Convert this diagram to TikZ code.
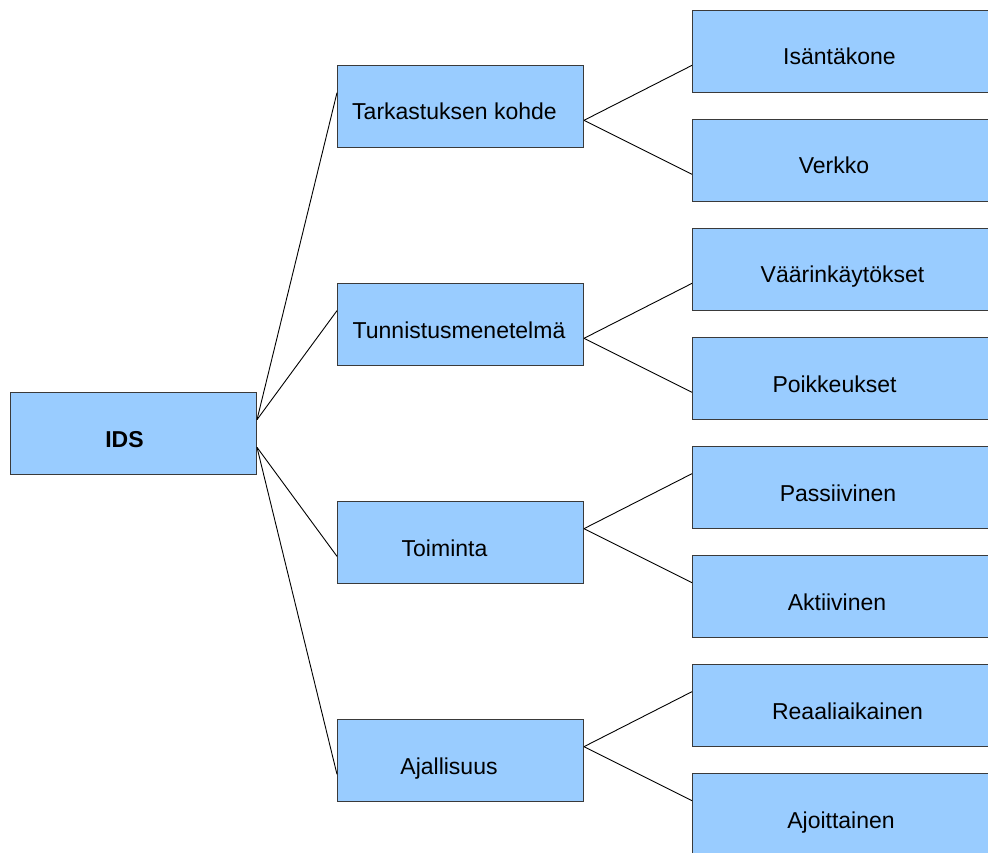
\documentclass[tikz,border=0pt]{standalone}
\usepackage{fontspec}
\setmainfont{Liberation Sans}
\usetikzlibrary{calc}
\definecolor{boxblue}{HTML}{99CCFF}
\definecolor{boxedge}{HTML}{3A3A3A}
\begin{document}
\begin{tikzpicture}[x=1pt,y=-1pt,
  box/.style={draw=boxedge, fill=boxblue, line width=1pt, inner sep=0pt,
              minimum height=82pt, anchor=north west},
  midbox/.style={box, minimum width=246pt},
  leafbox/.style={box, minimum width=298pt},
  lbl/.style={anchor=base, inner sep=0pt, font=\fontsize{23}{27}\selectfont},
  link/.style={draw=black, line width=0.9pt}]
\clip (0,0) rectangle (988,853);

% root
\node[midbox] (ids) at (10,392) {};
\node[lbl] (idsT) at (124.5,447.5) {\bfseries IDS};

% second level
\node[midbox] (t1) at (337,65) {};
\node[midbox] (t2) at (337,283) {};
\node[midbox] (t3) at (337,501) {};
\node[midbox] (t4) at (337,719) {};
\node[lbl] (t1T) at (454.5,120) {Tarkastuksen kohde};
\node[lbl] (t2T) at (459,338) {Tunnistusmenetelmä};
\node[lbl] (t3T) at (444.5,556) {Toiminta};
\node[lbl] (t4T) at (449,774) {Ajallisuus};

% leaves
\node[leafbox] (r1) at (692,10) {};
\node[leafbox] (r2) at (692,119) {};
\node[leafbox] (r3) at (692,228) {};
\node[leafbox] (r4) at (692,337) {};
\node[leafbox] (r5) at (692,446) {};
\node[leafbox] (r6) at (692,555) {};
\node[leafbox] (r7) at (692,664) {};
\node[leafbox] (r8) at (692,773) {};
\node[lbl] (r1T) at (839.5,65) {Isäntäkone};
\node[lbl] (r2T) at (834,174) {Verkko};
\node[lbl] (r3T) at (842.5,283) {Väärinkäytökset};
\node[lbl] (r4T) at (834.5,392) {Poikkeukset};
\node[lbl] (r5T) at (838,501) {Passiivinen};
\node[lbl] (r6T) at (837,610) {Aktiivinen};
\node[lbl] (r7T) at (847.5,719) {Reaaliaikainen};
\node[lbl] (r8T) at (841,828) {Ajoittainen};

% connectors: points at a fraction down the facing sides
\draw[link] ($(ids.north east)!1/3!(ids.south east)$) -- ($(t1.north west)!1/3!(t1.south west)$);
\draw[link] ($(ids.north east)!1/3!(ids.south east)$) -- ($(t2.north west)!1/3!(t2.south west)$);
\draw[link] ($(ids.north east)!2/3!(ids.south east)$) -- ($(t3.north west)!2/3!(t3.south west)$);
\draw[link] ($(ids.north east)!2/3!(ids.south east)$) -- ($(t4.north west)!2/3!(t4.south west)$);

\draw[link] ($(t1.north east)!2/3!(t1.south east)$) -- ($(r1.north west)!2/3!(r1.south west)$);
\draw[link] ($(t1.north east)!2/3!(t1.south east)$) -- ($(r2.north west)!2/3!(r2.south west)$);
\draw[link] ($(t2.north east)!2/3!(t2.south east)$) -- ($(r3.north west)!2/3!(r3.south west)$);
\draw[link] ($(t2.north east)!2/3!(t2.south east)$) -- ($(r4.north west)!2/3!(r4.south west)$);
\draw[link] ($(t3.north east)!1/3!(t3.south east)$) -- ($(r5.north west)!1/3!(r5.south west)$);
\draw[link] ($(t3.north east)!1/3!(t3.south east)$) -- ($(r6.north west)!1/3!(r6.south west)$);
\draw[link] ($(t4.north east)!1/3!(t4.south east)$) -- ($(r7.north west)!1/3!(r7.south west)$);
\draw[link] ($(t4.north east)!1/3!(t4.south east)$) -- ($(r8.north west)!1/3!(r8.south west)$);
\end{tikzpicture}
\end{document}
